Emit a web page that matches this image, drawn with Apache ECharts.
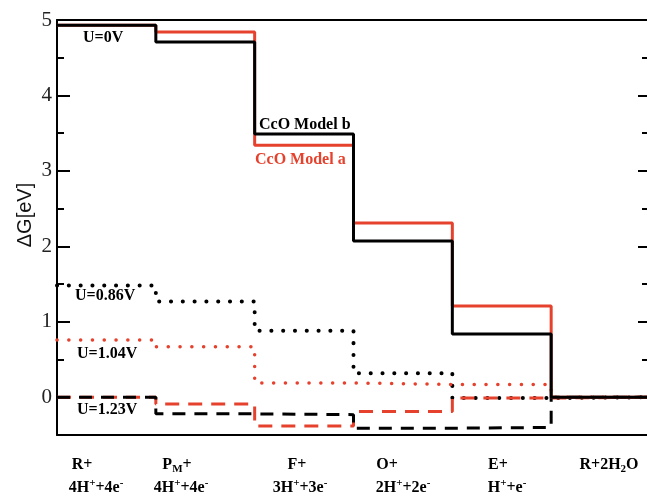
<!DOCTYPE html>
<html lang="en">
  <head>
    <meta charset="UTF-8" />
    <title>CcO free energy</title>
    <style>
      html, body { margin: 0; padding: 0; background: #fff; }
    </style>
  </head>
  <body>
    <div id="chart" style="width: 647px; height: 497px"></div>
    <script src="https://cdn.jsdelivr.net/npm/echarts@6/dist/echarts.min.js"></script>
    <script>
      // 反应步骤（横轴标签，两行）
      var stepTop = ["R+", "P{sub|M}+", "F+", "O+", "E+", "R+2H{sub|2}O"];
      var stepBottom = ["4H{sup|+}+4e{sup|-}", "4H{sup|+}+4e{sup|-}", "3H{sup|+}+3e{sup|-}", "2H{sup|+}+2e{sup|-}", "H{sup|+}+e{sup|-}", ""];

      // ΔG (eV) 每一步的能量
      var modelB_U0 = [4.93, 4.71, 3.49, 2.07, 0.84, 0];
      var modelA_U0 = [4.93, 4.84, 3.34, 2.31, 1.21, 0];
      var modelB_U086 = [1.48, 1.27, 0.88, 0.32, -0.01, 0];
      var modelA_U104 = [0.76, 0.67, 0.19, 0.17, 0.17, 0];
      var modelB_U123 = [0, -0.22, -0.23, -0.41, -0.4, 0];
      var modelA_U123 = [0, -0.09, -0.38, -0.19, -0.01, 0];

      // 刻度
      var yTicks = [0, 1, 2, 3, 4, 5];
      var yMinorTicks = [0.5, 1.5, 2.5, 3.5, 4.5];

      // 图中注释文字
      var notes = ["U=0V", "CcO Model b", "CcO Model a", "U=0.86V", "U=1.04V", "U=1.23V"];

      var black = "#000";
      var red = "#e5412d";

      // 横轴标签的位置（像素）
      var topX = [82, 177, 297, 387, 498, 609];
      var bottomX = [96, 181, 300, 403, 507, 0];
      var noteXY = [[83, 38], [259, 125], [255, 160], [75, 296], [77, 354], [77, 410]];
      var noteColor = [black, black, red, black, black, black];

      var dom = document.getElementById("chart");
      var myChart = echarts.init(dom);

      // 把每一步的值变成台阶线的点
      function stepData(vals) {
        var d = vals.map(function (v, i) {
          return [i, v];
        });
        d.push([vals.length, vals[vals.length - 1]]);
        return d;
      }

      function stepSeries(vals, color, width, type, cap) {
        return {
          type: "line",
          step: "end",
          data: stepData(vals),
          symbol: "none",
          silent: true,
          lineStyle: { color: color, width: width, type: type, cap: cap || "butt" },
        };
      }

      var rich = {
        sup: { fontSize: 11, lineHeight: 10, fontFamily: "Liberation Serif", fontWeight: "bold", verticalAlign: "top" },
        sub: { fontSize: 11, lineHeight: 12, fontFamily: "Liberation Serif", fontWeight: "bold", verticalAlign: "bottom" },
      };

      function labelStyle(text) {
        return {
          text: text,
          align: "center",
          verticalAlign: "middle",
          fontSize: 16,
          lineHeight: 20,
          fontFamily: "Liberation Serif",
          fontWeight: "bold",
          fill: "#000",
          rich: rich,
        };
      }

      var graphics = [];
      // 纵轴名
      graphics.push({
        type: "text",
        x: 25,
        y: 215,
        rotation: Math.PI / 2,
        style: {
          text: "ΔG[eV]",
          align: "center",
          verticalAlign: "middle",
          fontSize: 20,
          fontFamily: "Liberation Sans",
          fill: "#111",
        },
      });
      for (var i = 0; i < stepTop.length; i++) {
        graphics.push({ type: "text", x: topX[i], y: 465, style: labelStyle(stepTop[i]) });
        if (stepBottom[i]) {
          graphics.push({ type: "text", x: bottomX[i], y: 488, style: labelStyle(stepBottom[i]) });
        }
      }
      for (var j = 0; j < notes.length; j++) {
        graphics.push({
          type: "text",
          x: noteXY[j][0],
          y: noteXY[j][1],
          z: 100,
          style: {
            text: notes[j],
            align: "left",
            verticalAlign: "middle",
            fontSize: 16,
            fontWeight: "bold",
            fontFamily: "Liberation Serif",
            fill: noteColor[j],
          },
        });
      }

      var axisLineStyle = { show: true, onZero: false, lineStyle: { color: "#000", width: 2 } };

      function yAxisCfg(position, ticks, len, showLabel, showLine) {
        return {
          type: "value",
          position: position,
          min: -0.5,
          max: 5,
          axisLine: showLine ? axisLineStyle : { show: false, onZero: false },
          axisTick: { show: true, inside: true, length: len, customValues: ticks, lineStyle: { color: "#000", width: 2 } },
          axisLabel: {
            show: showLabel,
            customValues: ticks,
            margin: 5,
            fontSize: 21,
            fontFamily: "Liberation Serif",
            color: "#222",
          },
          splitLine: { show: false },
        };
      }

      var option = {
        backgroundColor: "#fff",
        animation: false,
        grid: { left: 57, right: -3, top: 20, bottom: 62, outerBoundsMode: "none" },
        xAxis: [
          {
            type: "value",
            position: "bottom",
            min: 0,
            max: 6,
            axisLine: axisLineStyle,
            axisTick: { show: false },
            axisLabel: { show: false },
            splitLine: { show: false },
          },
          {
            type: "value",
            position: "top",
            min: 0,
            max: 6,
            axisLine: axisLineStyle,
            axisTick: { show: false },
            axisLabel: { show: false },
            splitLine: { show: false },
          },
        ],
        yAxis: [
          yAxisCfg("left", yTicks, 13, true, true),
          yAxisCfg("left", yMinorTicks, 7, false, false),
          yAxisCfg("right", yTicks, 12, false, true),
          yAxisCfg("right", yMinorTicks, 8, false, false),
        ],
        graphic: graphics,
        series: [
          stepSeries(modelB_U086, black, 4, [0.1, 11.7], "round"),
          stepSeries(modelA_U104, red, 3.5, [0.1, 11.7], "round"),
          stepSeries(modelA_U123, red, 3, [14, 9]),
          stepSeries(modelB_U123, black, 3, [13, 9]),
          stepSeries(modelA_U0, red, 3, "solid"),
          stepSeries(modelB_U0, black, 3, "solid"),
        ],
      };
      myChart.setOption(option);
    </script>
  </body>
</html>
